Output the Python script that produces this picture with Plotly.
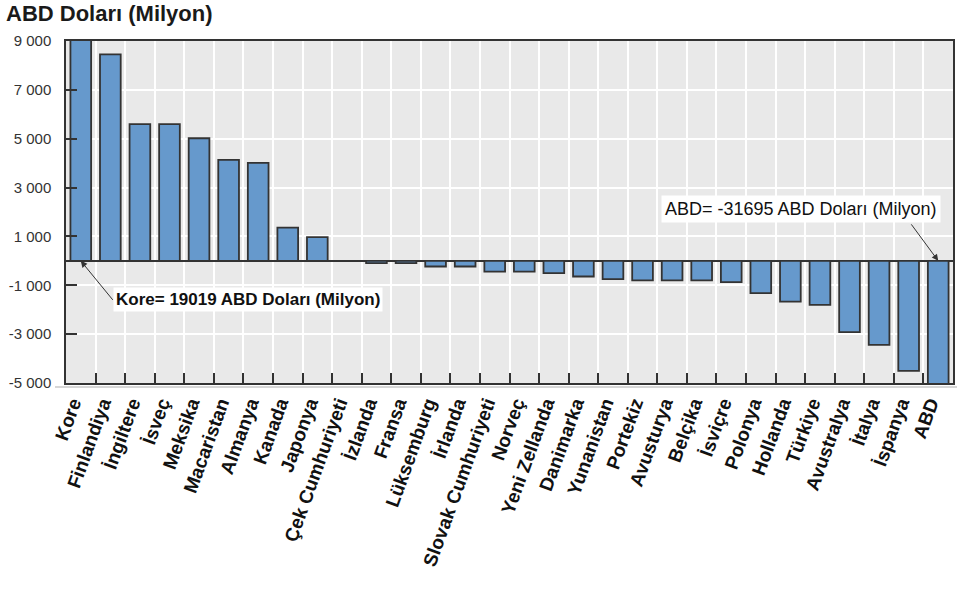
import plotly.graph_objects as go

# Country names along the category axis
countries = [
    "Kore", "Finlandiya", "İngiltere", "İsveç", "Meksika", "Macaristan",
    "Almanya", "Kanada", "Japonya", "Çek Cumhuriyeti", "İzlanda", "Fransa",
    "Lüksemburg", "İrlanda", "Slovak Cumhuriyeti", "Norveç", "Yeni Zellanda",
    "Danimarka", "Yunanistan", "Portekiz", "Avusturya", "Belçika", "İsviçre",
    "Polonya", "Hollanda", "Türkiye", "Avustralya", "İtalya", "İspanya", "ABD",
]

# Values in million US dollars
values = [
    19019, 8450, 5600, 5600, 5020, 4130, 4010, 1360, 970, 0, -90, -90,
    -230, -230, -440, -440, -500, -640, -750, -800, -800, -800, -870,
    -1320, -1665, -1800, -2920, -3440, -4500, -31695,
]

# Value-axis ticks
y_tick_vals = [-5000, -3000, -1000, 1000, 3000, 5000, 7000, 9000]
y_tick_labels = ["-5 000", "-3 000", "-1 000", "1 000", "3 000", "5 000", "7 000", "9 000"]
y_range = [-5000, 9000]

title_text = "ABD Doları (Milyon)"
unit = "ABD Doları (Milyon)"

FONT = "Liberation Sans, Arial, sans-serif"
DARK = "#333333"

fig = go.Figure(
    go.Bar(
        x=countries,
        y=values,
        marker=dict(color="#6699cc", line=dict(color=DARK, width=1.8)),
        hoverinfo="x+y",
    )
)

kore_idx = countries.index("Kore")
abd_idx = countries.index("ABD")

fig.update_layout(
    width=957,
    height=595,
    margin=dict(l=66, r=4, t=41, b=212),
    paper_bgcolor="white",
    plot_bgcolor="#e9e9e9",
    bargap=0.3,
    showlegend=False,
    font=dict(family=FONT, color="#222222"),
    title=dict(
        text=title_text,
        xref="container", yref="container",
        x=6 / 957, xanchor="left",
        y=1 - 13 / 595, yanchor="middle",
        font=dict(family=FONT, size=22, color="#1a1a1a", weight="bold"),
    ),
    xaxis=dict(
        type="category",
        tickson="boundaries",
        ticks="inside",
        ticklen=10,
        tickwidth=1.5,
        tickcolor=DARK,
        showgrid=True,
        gridcolor="white",
        gridwidth=1.5,
        showline=True,
        linecolor=DARK,
        linewidth=1.5,
        mirror=True,
        tickangle=-70,
        ticklabelshift=-8,
        tickfont=dict(family=FONT, size=19, color="#111111", weight="bold"),
        automargin=False,
        fixedrange=True,
    ),
    yaxis=dict(
        range=y_range,
        tickvals=y_tick_vals,
        ticktext=y_tick_labels,
        ticks="inside",
        ticklen=11,
        tickwidth=1.5,
        tickcolor=DARK,
        showgrid=True,
        gridcolor="white",
        gridwidth=1.5,
        zeroline=True,
        zerolinecolor=DARK,
        zerolinewidth=1.5,
        showline=True,
        linecolor=DARK,
        linewidth=1.5,
        mirror=True,
        ticklabelstandoff=10,
        tickfont=dict(family=FONT, size=15, color="#333333"),
        automargin=False,
        fixedrange=True,
    ),
    annotations=[
        # Kore label with arrow to the base of its clipped bar
        dict(
            x=countries[kore_idx], y=0, xref="x", yref="y",
            text=f"{countries[kore_idx]}= {values[kore_idx]} {unit}",
            showarrow=True, ax=32, ay=39,
            xanchor="left", yanchor="middle",
            bgcolor="white", borderpad=2,
            font=dict(family=FONT, size=17, color="#111111", weight="bold"),
            arrowhead=2, arrowsize=1.3, arrowwidth=1, arrowcolor=DARK,
        ),
        # ABD label box
        dict(
            x=countries[abd_idx], y=0, xref="x", yref="y",
            text=f"{countries[abd_idx]}= {values[abd_idx]} {unit}",
            showarrow=False,
            xanchor="right", yanchor="bottom",
            xshift=3, yshift=38,
            bgcolor="white", borderpad=3,
            font=dict(family=FONT, size=18, color="#111111"),
        ),
        # ABD arrow
        dict(
            x=countries[abd_idx], y=0, xref="x", yref="y",
            text="", showarrow=True, ax=-28, ay=-38,
            arrowhead=2, arrowsize=1.3, arrowwidth=1, arrowcolor=DARK,
        ),
    ],
    shapes=[
        dict(
            type="line", xref="paper", yref="paper",
            x0=-11 / 887, x1=1.005, y0=-4 / 342, y1=-4 / 342,
            line=dict(color="#c8c8c8", width=1.5),
        )
    ],
)

fig.write_html("out.html")
